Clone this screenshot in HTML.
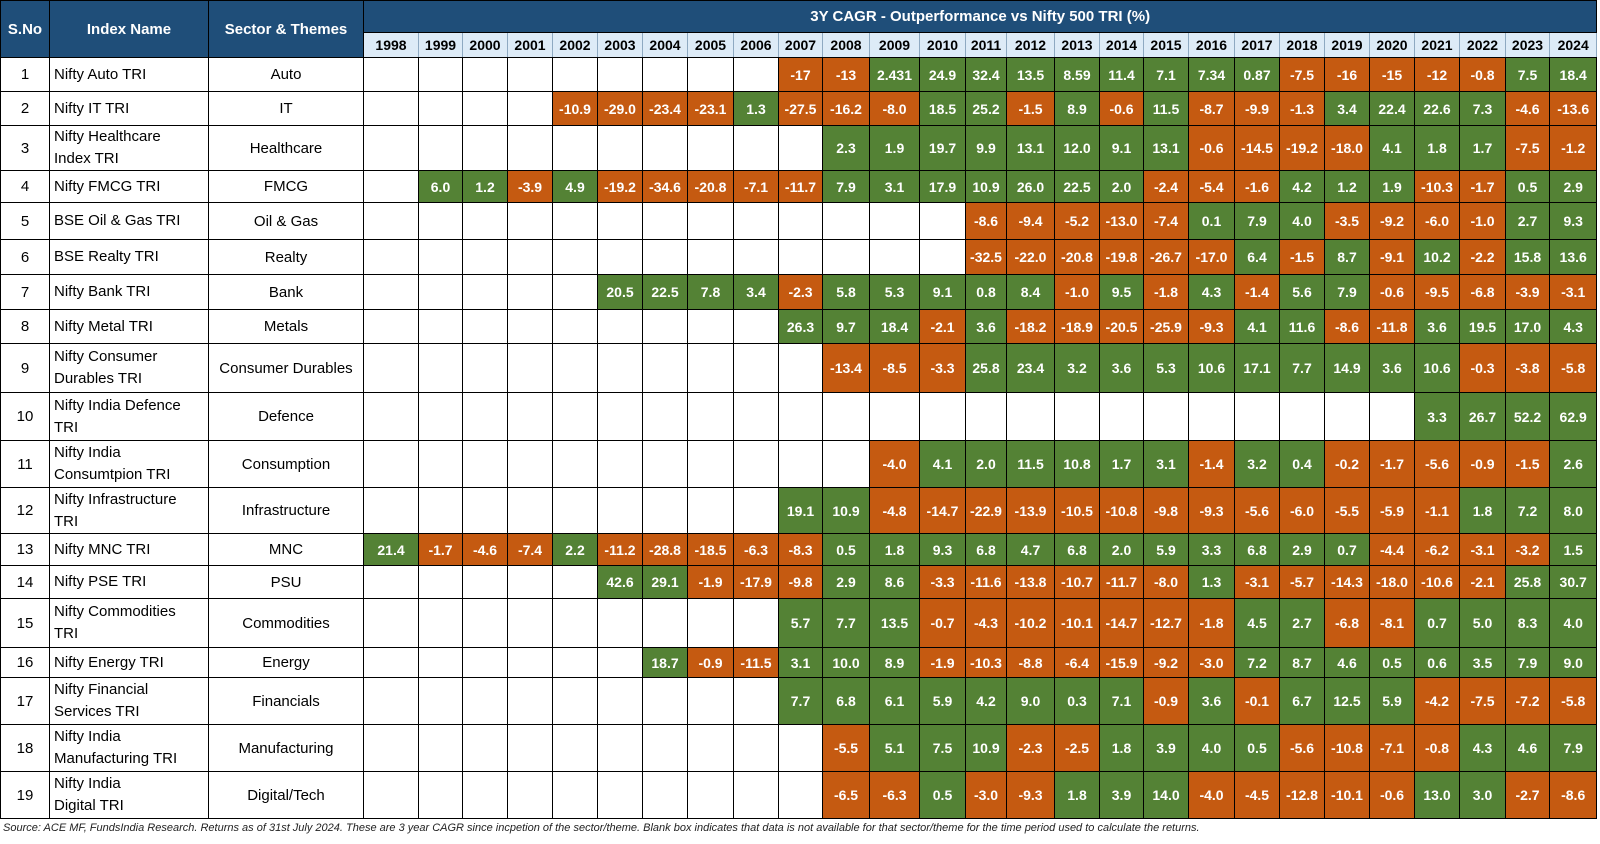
<!DOCTYPE html>
<html><head><meta charset="utf-8"><style>
body{margin:0;width:1600px;height:844px;background:#fff;overflow:hidden;font-family:"Liberation Sans",sans-serif}
table{position:absolute;left:0;top:0;border-collapse:collapse;table-layout:fixed;width:1596px}
td,th{border:1px solid #000;padding:0;text-align:center;font-size:14px;overflow:hidden;white-space:nowrap}
th{background:#1F4E79;color:#fff;font-size:15px}
th.y{background:#DDEBF7;color:#000;font-size:14px;border-color:#8EA9C1 #8EA9C1 #000}
td.n{text-align:left;padding-left:4px;font-size:15px;line-height:22px}
td.s{font-size:15px}
td.g{background:#548235;color:#fff;font-weight:bold}
td.o{background:#C55A11;color:#fff;font-weight:bold}
.src{position:absolute;left:3px;top:822px;font-size:11px;font-style:italic;color:#222}
</style></head><body>
<table>
<colgroup><col style="width:49px"><col style="width:159px"><col style="width:155px"><col style="width:55px"><col style="width:44px"><col style="width:45px"><col style="width:45px"><col style="width:45px"><col style="width:45px"><col style="width:45px"><col style="width:46px"><col style="width:45px"><col style="width:44px"><col style="width:47px"><col style="width:50px"><col style="width:46px"><col style="width:41px"><col style="width:48px"><col style="width:45px"><col style="width:44px"><col style="width:45px"><col style="width:46px"><col style="width:45px"><col style="width:45px"><col style="width:45px"><col style="width:45px"><col style="width:45px"><col style="width:46px"><col style="width:44px"><col style="width:47px"></colgroup>
<tr style="height:32px"><th rowspan="2">S.No</th><th rowspan="2">Index Name</th><th rowspan="2">Sector &amp; Themes</th><th colspan="27">3Y CAGR - Outperformance vs Nifty 500 TRI (%)</th></tr>
<tr style="height:25px"><th class="y">1998</th><th class="y">1999</th><th class="y">2000</th><th class="y">2001</th><th class="y">2002</th><th class="y">2003</th><th class="y">2004</th><th class="y">2005</th><th class="y">2006</th><th class="y">2007</th><th class="y">2008</th><th class="y">2009</th><th class="y">2010</th><th class="y">2011</th><th class="y">2012</th><th class="y">2013</th><th class="y">2014</th><th class="y">2015</th><th class="y">2016</th><th class="y">2017</th><th class="y">2018</th><th class="y">2019</th><th class="y">2020</th><th class="y">2021</th><th class="y">2022</th><th class="y">2023</th><th class="y">2024</th></tr>
<tr style="height:34px"><td class="s">1</td><td class="n">Nifty Auto TRI</td><td class="s">Auto</td><td></td><td></td><td></td><td></td><td></td><td></td><td></td><td></td><td></td><td class="o">-17</td><td class="o">-13</td><td class="g">2.431</td><td class="g">24.9</td><td class="g">32.4</td><td class="g">13.5</td><td class="g">8.59</td><td class="g">11.4</td><td class="g">7.1</td><td class="g">7.34</td><td class="g">0.87</td><td class="o">-7.5</td><td class="o">-16</td><td class="o">-15</td><td class="o">-12</td><td class="o">-0.8</td><td class="g">7.5</td><td class="g">18.4</td></tr>
<tr style="height:34px"><td class="s">2</td><td class="n">Nifty IT TRI</td><td class="s">IT</td><td></td><td></td><td></td><td></td><td class="o">-10.9</td><td class="o">-29.0</td><td class="o">-23.4</td><td class="o">-23.1</td><td class="g">1.3</td><td class="o">-27.5</td><td class="o">-16.2</td><td class="o">-8.0</td><td class="g">18.5</td><td class="g">25.2</td><td class="o">-1.5</td><td class="g">8.9</td><td class="o">-0.6</td><td class="g">11.5</td><td class="o">-8.7</td><td class="o">-9.9</td><td class="o">-1.3</td><td class="g">3.4</td><td class="g">22.4</td><td class="g">22.6</td><td class="g">7.3</td><td class="o">-4.6</td><td class="o">-13.6</td></tr>
<tr style="height:44px"><td class="s">3</td><td class="n">Nifty Healthcare<br>Index TRI</td><td class="s">Healthcare</td><td></td><td></td><td></td><td></td><td></td><td></td><td></td><td></td><td></td><td></td><td class="g">2.3</td><td class="g">1.9</td><td class="g">19.7</td><td class="g">9.9</td><td class="g">13.1</td><td class="g">12.0</td><td class="g">9.1</td><td class="g">13.1</td><td class="o">-0.6</td><td class="o">-14.5</td><td class="o">-19.2</td><td class="o">-18.0</td><td class="g">4.1</td><td class="g">1.8</td><td class="g">1.7</td><td class="o">-7.5</td><td class="o">-1.2</td></tr>
<tr style="height:32px"><td class="s">4</td><td class="n">Nifty FMCG TRI</td><td class="s">FMCG</td><td></td><td class="g">6.0</td><td class="g">1.2</td><td class="o">-3.9</td><td class="g">4.9</td><td class="o">-19.2</td><td class="o">-34.6</td><td class="o">-20.8</td><td class="o">-7.1</td><td class="o">-11.7</td><td class="g">7.9</td><td class="g">3.1</td><td class="g">17.9</td><td class="g">10.9</td><td class="g">26.0</td><td class="g">22.5</td><td class="g">2.0</td><td class="o">-2.4</td><td class="o">-5.4</td><td class="o">-1.6</td><td class="g">4.2</td><td class="g">1.2</td><td class="g">1.9</td><td class="o">-10.3</td><td class="o">-1.7</td><td class="g">0.5</td><td class="g">2.9</td></tr>
<tr style="height:37px"><td class="s">5</td><td class="n">BSE Oil &amp; Gas TRI</td><td class="s">Oil &amp; Gas</td><td></td><td></td><td></td><td></td><td></td><td></td><td></td><td></td><td></td><td></td><td></td><td></td><td></td><td class="o">-8.6</td><td class="o">-9.4</td><td class="o">-5.2</td><td class="o">-13.0</td><td class="o">-7.4</td><td class="g">0.1</td><td class="g">7.9</td><td class="g">4.0</td><td class="o">-3.5</td><td class="o">-9.2</td><td class="o">-6.0</td><td class="o">-1.0</td><td class="g">2.7</td><td class="g">9.3</td></tr>
<tr style="height:35px"><td class="s">6</td><td class="n">BSE Realty TRI</td><td class="s">Realty</td><td></td><td></td><td></td><td></td><td></td><td></td><td></td><td></td><td></td><td></td><td></td><td></td><td></td><td class="o">-32.5</td><td class="o">-22.0</td><td class="o">-20.8</td><td class="o">-19.8</td><td class="o">-26.7</td><td class="o">-17.0</td><td class="g">6.4</td><td class="o">-1.5</td><td class="g">8.7</td><td class="o">-9.1</td><td class="g">10.2</td><td class="o">-2.2</td><td class="g">15.8</td><td class="g">13.6</td></tr>
<tr style="height:35px"><td class="s">7</td><td class="n">Nifty Bank TRI</td><td class="s">Bank</td><td></td><td></td><td></td><td></td><td></td><td class="g">20.5</td><td class="g">22.5</td><td class="g">7.8</td><td class="g">3.4</td><td class="o">-2.3</td><td class="g">5.8</td><td class="g">5.3</td><td class="g">9.1</td><td class="g">0.8</td><td class="g">8.4</td><td class="o">-1.0</td><td class="g">9.5</td><td class="o">-1.8</td><td class="g">4.3</td><td class="o">-1.4</td><td class="g">5.6</td><td class="g">7.9</td><td class="o">-0.6</td><td class="o">-9.5</td><td class="o">-6.8</td><td class="o">-3.9</td><td class="o">-3.1</td></tr>
<tr style="height:34px"><td class="s">8</td><td class="n">Nifty Metal TRI</td><td class="s">Metals</td><td></td><td></td><td></td><td></td><td></td><td></td><td></td><td></td><td></td><td class="g">26.3</td><td class="g">9.7</td><td class="g">18.4</td><td class="o">-2.1</td><td class="g">3.6</td><td class="o">-18.2</td><td class="o">-18.9</td><td class="o">-20.5</td><td class="o">-25.9</td><td class="o">-9.3</td><td class="g">4.1</td><td class="g">11.6</td><td class="o">-8.6</td><td class="o">-11.8</td><td class="g">3.6</td><td class="g">19.5</td><td class="g">17.0</td><td class="g">4.3</td></tr>
<tr style="height:49px"><td class="s">9</td><td class="n">Nifty Consumer<br>Durables TRI</td><td class="s">Consumer Durables</td><td></td><td></td><td></td><td></td><td></td><td></td><td></td><td></td><td></td><td></td><td class="o">-13.4</td><td class="o">-8.5</td><td class="o">-3.3</td><td class="g">25.8</td><td class="g">23.4</td><td class="g">3.2</td><td class="g">3.6</td><td class="g">5.3</td><td class="g">10.6</td><td class="g">17.1</td><td class="g">7.7</td><td class="g">14.9</td><td class="g">3.6</td><td class="g">10.6</td><td class="o">-0.3</td><td class="o">-3.8</td><td class="o">-5.8</td></tr>
<tr style="height:48px"><td class="s">10</td><td class="n">Nifty India Defence<br>TRI</td><td class="s">Defence</td><td></td><td></td><td></td><td></td><td></td><td></td><td></td><td></td><td></td><td></td><td></td><td></td><td></td><td></td><td></td><td></td><td></td><td></td><td></td><td></td><td></td><td></td><td></td><td class="g">3.3</td><td class="g">26.7</td><td class="g">52.2</td><td class="g">62.9</td></tr>
<tr style="height:47px"><td class="s">11</td><td class="n">Nifty India<br>Consumtpion TRI</td><td class="s">Consumption</td><td></td><td></td><td></td><td></td><td></td><td></td><td></td><td></td><td></td><td></td><td></td><td class="o">-4.0</td><td class="g">4.1</td><td class="g">2.0</td><td class="g">11.5</td><td class="g">10.8</td><td class="g">1.7</td><td class="g">3.1</td><td class="o">-1.4</td><td class="g">3.2</td><td class="g">0.4</td><td class="o">-0.2</td><td class="o">-1.7</td><td class="o">-5.6</td><td class="o">-0.9</td><td class="o">-1.5</td><td class="g">2.6</td></tr>
<tr style="height:46px"><td class="s">12</td><td class="n">Nifty Infrastructure<br>TRI</td><td class="s">Infrastructure</td><td></td><td></td><td></td><td></td><td></td><td></td><td></td><td></td><td></td><td class="g">19.1</td><td class="g">10.9</td><td class="o">-4.8</td><td class="o">-14.7</td><td class="o">-22.9</td><td class="o">-13.9</td><td class="o">-10.5</td><td class="o">-10.8</td><td class="o">-9.8</td><td class="o">-9.3</td><td class="o">-5.6</td><td class="o">-6.0</td><td class="o">-5.5</td><td class="o">-5.9</td><td class="o">-1.1</td><td class="g">1.8</td><td class="g">7.2</td><td class="g">8.0</td></tr>
<tr style="height:32px"><td class="s">13</td><td class="n">Nifty MNC TRI</td><td class="s">MNC</td><td class="g">21.4</td><td class="o">-1.7</td><td class="o">-4.6</td><td class="o">-7.4</td><td class="g">2.2</td><td class="o">-11.2</td><td class="o">-28.8</td><td class="o">-18.5</td><td class="o">-6.3</td><td class="o">-8.3</td><td class="g">0.5</td><td class="g">1.8</td><td class="g">9.3</td><td class="g">6.8</td><td class="g">4.7</td><td class="g">6.8</td><td class="g">2.0</td><td class="g">5.9</td><td class="g">3.3</td><td class="g">6.8</td><td class="g">2.9</td><td class="g">0.7</td><td class="o">-4.4</td><td class="o">-6.2</td><td class="o">-3.1</td><td class="o">-3.2</td><td class="g">1.5</td></tr>
<tr style="height:33px"><td class="s">14</td><td class="n">Nifty PSE TRI</td><td class="s">PSU</td><td></td><td></td><td></td><td></td><td></td><td class="g">42.6</td><td class="g">29.1</td><td class="o">-1.9</td><td class="o">-17.9</td><td class="o">-9.8</td><td class="g">2.9</td><td class="g">8.6</td><td class="o">-3.3</td><td class="o">-11.6</td><td class="o">-13.8</td><td class="o">-10.7</td><td class="o">-11.7</td><td class="o">-8.0</td><td class="g">1.3</td><td class="o">-3.1</td><td class="o">-5.7</td><td class="o">-14.3</td><td class="o">-18.0</td><td class="o">-10.6</td><td class="o">-2.1</td><td class="g">25.8</td><td class="g">30.7</td></tr>
<tr style="height:49px"><td class="s">15</td><td class="n">Nifty Commodities<br>TRI</td><td class="s">Commodities</td><td></td><td></td><td></td><td></td><td></td><td></td><td></td><td></td><td></td><td class="g">5.7</td><td class="g">7.7</td><td class="g">13.5</td><td class="o">-0.7</td><td class="o">-4.3</td><td class="o">-10.2</td><td class="o">-10.1</td><td class="o">-14.7</td><td class="o">-12.7</td><td class="o">-1.8</td><td class="g">4.5</td><td class="g">2.7</td><td class="o">-6.8</td><td class="o">-8.1</td><td class="g">0.7</td><td class="g">5.0</td><td class="g">8.3</td><td class="g">4.0</td></tr>
<tr style="height:30px"><td class="s">16</td><td class="n">Nifty Energy TRI</td><td class="s">Energy</td><td></td><td></td><td></td><td></td><td></td><td></td><td class="g">18.7</td><td class="o">-0.9</td><td class="o">-11.5</td><td class="g">3.1</td><td class="g">10.0</td><td class="g">8.9</td><td class="o">-1.9</td><td class="o">-10.3</td><td class="o">-8.8</td><td class="o">-6.4</td><td class="o">-15.9</td><td class="o">-9.2</td><td class="o">-3.0</td><td class="g">7.2</td><td class="g">8.7</td><td class="g">4.6</td><td class="g">0.5</td><td class="g">0.6</td><td class="g">3.5</td><td class="g">7.9</td><td class="g">9.0</td></tr>
<tr style="height:47px"><td class="s">17</td><td class="n">Nifty Financial<br>Services TRI</td><td class="s">Financials</td><td></td><td></td><td></td><td></td><td></td><td></td><td></td><td></td><td></td><td class="g">7.7</td><td class="g">6.8</td><td class="g">6.1</td><td class="g">5.9</td><td class="g">4.2</td><td class="g">9.0</td><td class="g">0.3</td><td class="g">7.1</td><td class="o">-0.9</td><td class="g">3.6</td><td class="o">-0.1</td><td class="g">6.7</td><td class="g">12.5</td><td class="g">5.9</td><td class="o">-4.2</td><td class="o">-7.5</td><td class="o">-7.2</td><td class="o">-5.8</td></tr>
<tr style="height:47px"><td class="s">18</td><td class="n">Nifty India<br>Manufacturing TRI</td><td class="s">Manufacturing</td><td></td><td></td><td></td><td></td><td></td><td></td><td></td><td></td><td></td><td></td><td class="o">-5.5</td><td class="g">5.1</td><td class="g">7.5</td><td class="g">10.9</td><td class="o">-2.3</td><td class="o">-2.5</td><td class="g">1.8</td><td class="g">3.9</td><td class="g">4.0</td><td class="g">0.5</td><td class="o">-5.6</td><td class="o">-10.8</td><td class="o">-7.1</td><td class="o">-0.8</td><td class="g">4.3</td><td class="g">4.6</td><td class="g">7.9</td></tr>
<tr style="height:47px"><td class="s">19</td><td class="n">Nifty India<br>Digital TRI</td><td class="s">Digital/Tech</td><td></td><td></td><td></td><td></td><td></td><td></td><td></td><td></td><td></td><td></td><td class="o">-6.5</td><td class="o">-6.3</td><td class="g">0.5</td><td class="o">-3.0</td><td class="o">-9.3</td><td class="g">1.8</td><td class="g">3.9</td><td class="g">14.0</td><td class="o">-4.0</td><td class="o">-4.5</td><td class="o">-12.8</td><td class="o">-10.1</td><td class="o">-0.6</td><td class="g">13.0</td><td class="g">3.0</td><td class="o">-2.7</td><td class="o">-8.6</td></tr>
</table>
<div class="src">Source: ACE MF, FundsIndia Research. Returns as of 31st July 2024. These are 3 year CAGR since incpetion of the sector/theme. Blank box indicates that data is not available for that sector/theme for the time period used to calculate the returns.</div>
</body></html>
